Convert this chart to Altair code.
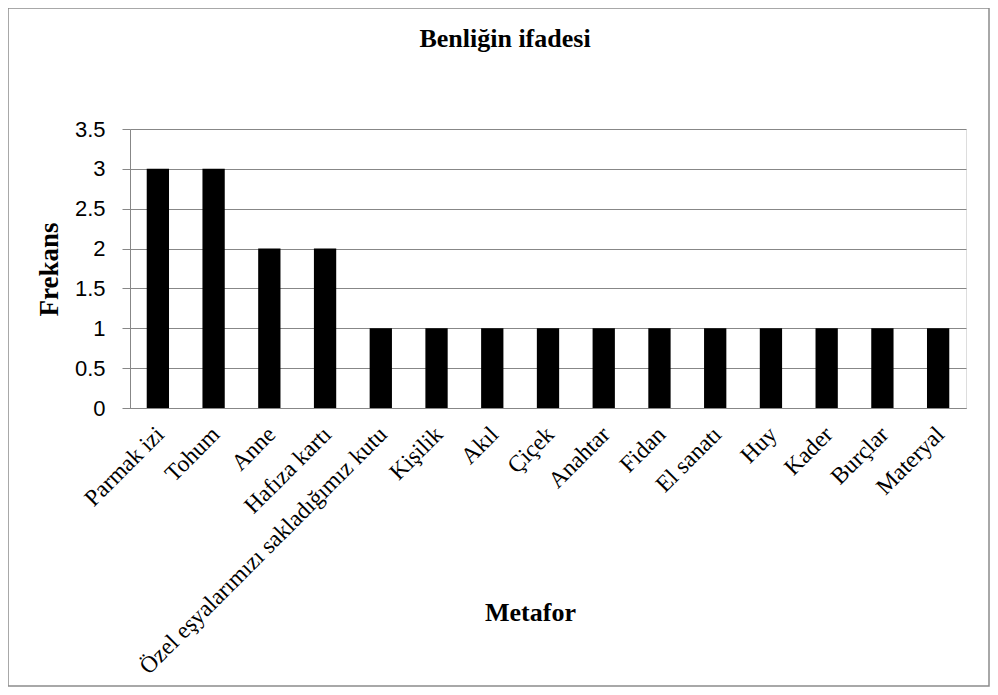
import altair as alt
import pandas as pd

categories = ["Parmak izi", "Tohum", "Anne", "Hafıza kartı",
              "Özel eşyalarımızı sakladığımız kutu", "Kişilik", "Akıl", "Çiçek",
              "Anahtar", "Fidan", "El sanatı", "Huy", "Kader", "Burçlar", "Materyal"]
values = [3, 3, 2, 2, 1, 1, 1, 1, 1, 1, 1, 1, 1, 1, 1]
y_ticks = [0, 0.5, 1, 1.5, 2, 2.5, 3, 3.5]
chart_title = "Benliğin ifadesi"

df = pd.DataFrame({"Metafor": categories, "Frekans": values})

SERIF = "Liberation Serif"
SANS = "Liberation Sans"
GRAY = "#878787"

bars = alt.Chart(df).mark_bar(color="#000000").encode(
    x=alt.X("Metafor:N", sort=None,
            scale=alt.Scale(paddingInner=0.6, paddingOuter=0.3),
            axis=alt.Axis(title="Metafor", labelAngle=-45, labelFont=SERIF,
                          labelFontSize=23.5, labelColor="#000000", labelPadding=14,
                          labelOffset=-6,
                          ticks=False, domainColor=GRAY, labelLimit=0,
                          titleFont=SERIF, titleFontSize=26, titleFontWeight="bold",
                          titleColor="#000000", titleX=400, titleY=212,
                          titleBaseline="alphabetic", titleAlign="center")),
    y=alt.Y("Frekans:Q",
            scale=alt.Scale(domain=[0, 3.5], nice=False),
            axis=alt.Axis(title="Frekans", values=y_ticks, format="~g",
                          labelFont=SANS, labelFontSize=22, labelColor="#000000",
                          labelPadding=17, tickSize=8, tickColor=GRAY,
                          domainColor=GRAY, gridColor=GRAY, grid=True,
                          titleFont=SERIF, titleFontSize=27, titleFontWeight="bold",
                          titleColor="#000000", titleX=-73, titleY=140,
                          titleBaseline="alphabetic", titleAlign="center",
                          titleAngle=-90)),
)

title = alt.Chart(pd.DataFrame({"t": [chart_title]})).mark_text(
    font=SERIF, fontSize=26, fontWeight="bold", color="#000000",
    align="center", baseline="alphabetic"
).encode(x=alt.value(375), y=alt.value(-82), text="t:N")

frame = alt.Chart(pd.DataFrame({"f": [0]})).mark_rect(
    fill="transparent", stroke="#8c8c8c", strokeWidth=1.5
).encode(
    x=alt.value(-122), x2=alt.value(859),
    y=alt.value(-121), y2=alt.value(557),
)

chart = alt.layer(frame, bars, title).properties(
    width=836, height=279,
    autosize=alt.AutoSizeParams(type="none"),
    padding={"left": 122, "top": 121, "right": 24, "bottom": 279},
).configure_view(strokeWidth=0).configure(background="white")

chart.save("out.html", embed_options={"renderer": "svg", "actions": False})
